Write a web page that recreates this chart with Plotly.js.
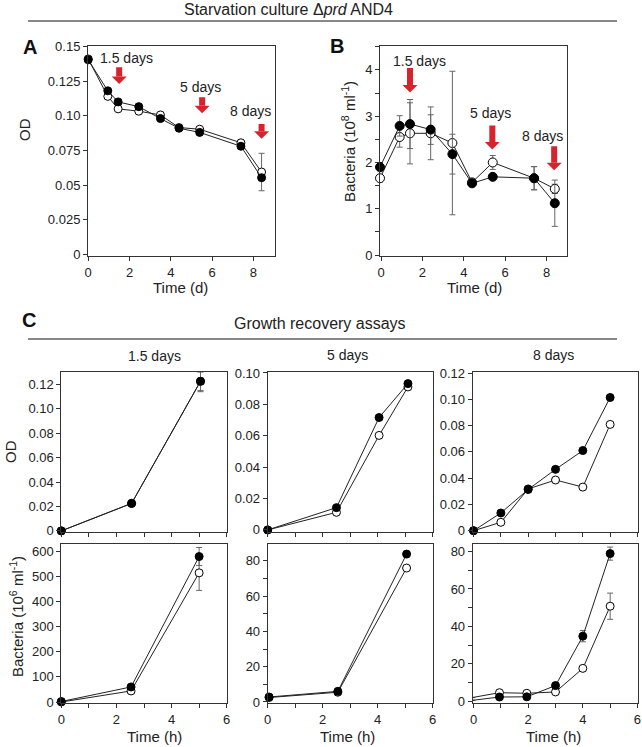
<!DOCTYPE html>
<html>
<head>
<meta charset="utf-8">
<script src="https://cdn.plot.ly/plotly-3.0.1.min.js"></script>
<style>html,body{margin:0;padding:0;background:#fff;}#chart{width:642px;height:747px;}</style>
</head>
<body>
<div id="chart"></div>
<script>
// ---------- Panel A: OD during starvation ----------
const A_days = [0, 0.95, 1.45, 2.45, 3.5, 4.4, 5.4, 7.4, 8.4];
const A_od_filled = [0.1404, 0.118, 0.110, 0.1066, 0.098, 0.091, 0.088, 0.078, 0.0553];
const A_od_open = [0.141, 0.114, 0.105, 0.1033, 0.1006, 0.0915, 0.0903, 0.0805, 0.0594];
const A_err_filled = [0, 0, 0, 0, 0, 0, 0, 0, 0];
const A_err_open = [0, 0, 0, 0, 0, 0, 0, 0, 0.0135];
const A_ytickvals = [0, 0.025, 0.05, 0.075, 0.10, 0.125, 0.15];
const A_yticktext = ['0', '0.025', '0.05', '0.075', '0.10', '0.125', '0.15'];

// ---------- Panel B: bacteria during starvation ----------
const B_days = [-0.05, 0.9, 1.4, 2.4, 3.45, 4.4, 5.4, 7.4, 8.4];
const B_filled = [1.9, 2.79, 2.83, 2.71, 2.18, 1.55, 1.69, 1.66, 1.12];
const B_open = [1.66, 2.55, 2.63, 2.63, 2.42, 1.57, 2.0, 1.66, 1.43];
const B_err_filled = [0.1, 0.22, 0.53, 0.32, 0.43, 0.06, 0.05, 0.25, 0.5];
const B_err_open = [0.08, 0.22, 0.66, 0.57, 1.55, 0.05, 0.15, 0.25, 0.1];

// sampling-day markers (arrows + labels)
const sampleLabels = ['1.5 days', '5 days', '8 days'];
const A_arrowX = [1.5, 5.52, 8.4];
const A_arrowTop = [0.135, 0.1133, 0.094];
const A_arrowTip = [0.123, 0.1018, 0.0834];
const A_labelX = [1.84, 5.44, 7.87];
const A_labelY = [0.142, 0.121, 0.1037];
const B_arrowX = [1.4, 5.38, 8.37];
const B_arrowTop = [4.04, 2.8, 2.35];
const B_arrowTip = [3.51, 2.28, 1.83];
const B_labelX = [1.88, 5.3, 7.81];
const B_labelY = [4.2, 3.07, 2.58];

// ---------- Panel C: growth recovery ----------
const C15_t = [0, 2.55, 5.05];
const C15_od_filled = [0, 0.0225, 0.1224];
const C15_od_open = [0, 0.0225, 0.1224];
const C15_od_err_filled = [0, 0, 0.0085];
const C15_od_err_open = [0, 0, 0.0075];

const C5_t = [0, 2.5, 4.05, 5.1];
const C5_od_filled = [0, 0.0142, 0.0716, 0.0932];
const C5_od_open = [0, 0.0112, 0.0602, 0.0911];

const C8_t = [0, 1, 2, 3, 4, 5];
const C8_od_filled = [0, 0.0135, 0.0314, 0.0467, 0.061, 0.1014];
const C8_od_open = [0, 0.0064, 0.0318, 0.0386, 0.0332, 0.0809];

const C15_bt = [0, 2.53, 5.0];
const C15_bac_filled = [2, 60, 580];
const C15_bac_open = [0, 44, 515];
const C15_bac_err_filled = [0, 0, 36];
const C15_bac_err_open = [0, 0, 70];

const C5_bt = [0.05, 2.55, 5.05];
const C5_bac_filled = [2.8, 6.0, 83.8];
const C5_bac_open = [2.5, 5.5, 75.9];
const C5_bac_err_filled = [0, 0, 1.5];
const C5_bac_err_open = [0, 0, 1.5];

const C8_bt = [-0.05, 0.95, 1.95, 3.0, 4.0, 5.0];
const C8_bac_filled = [0.5, 2.3, 2.4, 8.4, 34.8, 78.9];
const C8_bac_open = [2.0, 4.6, 4.3, 5.0, 17.6, 50.8];
const C8_bac_err_filled = [0, 0, 0, 0, 3, 3.5];
const C8_bac_err_open = [0, 0, 0, 0, 0, 7];

const C_od_tickvals = [0, 0.02, 0.04, 0.06, 0.08, 0.10, 0.12];
const C_od_ticktext = ['0', '0.02', '0.04', '0.06', '0.08', '0.10', '0.12'];

// ---------------------------------------------------------
const W = 642, H = 747;
const FONT = 'Liberation Sans, Arial, sans-serif';
const px = v => v / W;
const py = v => 1 - v / H;

function series(x, y, err, filled, xa, ya, msize) {
  const t = {
    x: x, y: y, xaxis: xa, yaxis: ya, type: 'scatter', mode: 'lines+markers',
    line: {color: '#222', width: 1},
    marker: {size: msize || 8, color: filled ? '#000' : '#fff', line: {color: '#000', width: 1}},
    showlegend: false, hoverinfo: 'x+y', cliponaxis: false
  };
  if (err) t.error_y = {type: 'data', array: err, visible: true, color: '#666', thickness: 1, width: 3};
  return t;
}

const traces = [
  series(A_days, A_od_open, A_err_open, false, 'x', 'y'),
  series(A_days, A_od_filled, A_err_filled, true, 'x', 'y'),
  series(B_days, B_open, B_err_open, false, 'x2', 'y2', 9),
  series(B_days, B_filled, B_err_filled, true, 'x2', 'y2', 9),
  series(C15_t, C15_od_open, C15_od_err_open, false, 'x3', 'y3'),
  series(C15_t, C15_od_filled, C15_od_err_filled, true, 'x3', 'y3'),
  series(C5_t, C5_od_open, null, false, 'x4', 'y4'),
  series(C5_t, C5_od_filled, null, true, 'x4', 'y4'),
  series(C8_t, C8_od_open, null, false, 'x5', 'y5'),
  series(C8_t, C8_od_filled, null, true, 'x5', 'y5'),
  series(C15_bt, C15_bac_open, C15_bac_err_open, false, 'x6', 'y6'),
  series(C15_bt, C15_bac_filled, C15_bac_err_filled, true, 'x6', 'y6'),
  series(C5_bt, C5_bac_open, C5_bac_err_open, false, 'x7', 'y7'),
  series(C5_bt, C5_bac_filled, C5_bac_err_filled, true, 'x7', 'y7'),
  series(C8_bt, C8_bac_open, C8_bac_err_open, false, 'x8', 'y8'),
  series(C8_bt, C8_bac_filled, C8_bac_err_filled, true, 'x8', 'y8')
];

function axis(dom, range, anchor, extra) {
  return Object.assign({
    domain: dom, range: range, anchor: anchor,
    showline: true, mirror: true, linecolor: '#333', linewidth: 1,
    ticks: 'outside', ticklen: 4, tickcolor: '#333', tickwidth: 1,
    showgrid: false, zeroline: false,
    tickfont: {family: FONT, size: 13, color: '#222'}, fixedrange: true
  }, extra || {});
}

// domains in pixels
const A_xpx = [88, 275], AB_ypx = [45.8, 256], B_xpx = [380, 567];
const A_x = [px(A_xpx[0]), px(A_xpx[1])], AB_y = [py(AB_ypx[1]), py(AB_ypx[0])];
const B_x = [px(B_xpx[0]), px(B_xpx[1])];
const C1_x = [px(61.3), px(226.7)], C2_x = [px(267.7), px(432.7)], C3_x = [px(472.7), px(638.3)];
const Ctop_y = [py(531.5), py(372)], Cbot_y = [py(703), py(543.5)];

const A_xrange = [-0.01, 9.05], A_yrange = [-0.0012, 0.1505];
const B_xrange = [-0.05, 8.99], B_yrange = [-0.02, 4.52];

const xMinor = {dtick: 1, ticks: 'outside', ticklen: 4, tickcolor: '#333', showgrid: false};

const layout = {
  width: W, height: H, margin: {l: 0, r: 0, t: 0, b: 0},
  paper_bgcolor: '#fff', plot_bgcolor: '#fff',
  font: {family: FONT, color: '#222'}, showlegend: false,
  xaxis: axis(A_x, A_xrange, 'y', {tickvals: [0, 2, 4, 6, 8]}),
  yaxis: axis(AB_y, A_yrange, 'x', {tickvals: A_ytickvals, ticktext: A_yticktext}),
  xaxis2: axis(B_x, B_xrange, 'y2', {tickvals: [0, 2, 4, 6, 8]}),
  yaxis2: axis(AB_y, B_yrange, 'x2', {dtick: 1, tick0: 0, minor: {dtick: 0.5, ticks: 'outside', ticklen: 4, tickcolor: '#333', showgrid: false}}),
  xaxis3: axis(C1_x, [0, 6], 'y3', {dtick: 1, showticklabels: false}),
  yaxis3: axis(Ctop_y, [-0.0005, 0.13], 'x3', {tickvals: C_od_tickvals, ticktext: C_od_ticktext}),
  xaxis4: axis(C2_x, [0, 6], 'y4', {dtick: 1, showticklabels: false}),
  yaxis4: axis(Ctop_y, [-0.001, 0.1006], 'x4', {tickvals: C_od_tickvals.slice(0, 6), ticktext: C_od_ticktext.slice(0, 6)}),
  xaxis5: axis(C3_x, [-0.03, 6.03], 'y5', {dtick: 1, showticklabels: false}),
  yaxis5: axis(Ctop_y, [-0.0006, 0.1208], 'x5', {tickvals: C_od_tickvals, ticktext: C_od_ticktext}),
  xaxis6: axis(C1_x, [0, 6], 'y6', {dtick: 2, tick0: 0, minor: xMinor}),
  yaxis6: axis(Cbot_y, [-4, 632], 'x6', {dtick: 100, tick0: 0}),
  xaxis7: axis(C2_x, [0, 6], 'y7', {dtick: 2, tick0: 0, minor: xMinor}),
  yaxis7: axis(Cbot_y, [-0.6, 89.8], 'x7', {dtick: 20, tick0: 0, minor: {dtick: 10, ticks: 'outside', ticklen: 4, tickcolor: '#333', showgrid: false}}),
  xaxis8: axis(C3_x, [-0.03, 6.03], 'y8', {dtick: 2, tick0: 0, minor: xMinor}),
  yaxis8: axis(Cbot_y, [-0.9, 84.3], 'x8', {dtick: 20, tick0: 0, minor: {dtick: 10, ticks: 'outside', ticklen: 4, tickcolor: '#333', showgrid: false}}),
  shapes: [
    {type: 'line', xref: 'paper', yref: 'paper', x0: px(28), x1: px(617), y0: py(21), y1: py(21), line: {color: '#888', width: 2}},
    {type: 'line', xref: 'paper', yref: 'paper', x0: px(28), x1: px(617), y0: py(339), y1: py(339), line: {color: '#888', width: 2}}
  ],
  annotations: []
};

function ptext(x, y, text, size, extra) {
  return Object.assign({xref: 'paper', yref: 'paper', x: px(x), y: py(y), text: text, showarrow: false,
    xanchor: 'center', yanchor: 'middle', font: {family: FONT, size: size, color: '#222'}}, extra || {});
}

const ann = layout.annotations;
ann.push(ptext(288, 9, 'Starvation culture Δ<i>prd</i> AND4', 16));
ann.push(ptext(320, 323, 'Growth recovery assays', 16));
ann.push(ptext(30, 47, '<b>A</b>', 20, {font: {family: FONT, size: 20, color: '#111'}}));
ann.push(ptext(337, 46, '<b>B</b>', 20, {font: {family: FONT, size: 20, color: '#111'}}));
ann.push(ptext(29, 320, '<b>C</b>', 20, {font: {family: FONT, size: 20, color: '#111'}}));
ann.push(ptext(154, 356, '1.5 days', 14));
ann.push(ptext(348, 355, '5 days', 14));
ann.push(ptext(553, 355, '8 days', 14));
ann.push(ptext(24, 129, 'OD', 15, {textangle: -90}));
ann.push(ptext(348, 141, 'Bacteria (10<sup>8</sup> ml<sup>-1</sup>)', 15, {textangle: -90}));
ann.push(ptext(181, 287, 'Time (d)', 15));
ann.push(ptext(474, 287, 'Time (d)', 15));
ann.push(ptext(10, 452, 'OD', 15, {textangle: -90}));
ann.push(ptext(16, 617, 'Bacteria (10<sup>6</sup> ml<sup>-1</sup>)', 15, {textangle: -90}));
ann.push(ptext(154, 736, 'Time (h)', 15));
ann.push(ptext(347, 736, 'Time (h)', 15));
ann.push(ptext(553, 736, 'Time (h)', 15));

// red block arrows drawn as shapes in data coordinates
function dayMarkers(xa, ya, xr, yr, xpx, ypx, ax, top, tip, lx, ly) {
  const dxPerPx = (xr[1] - xr[0]) / (xpx[1] - xpx[0]);
  const dyPerPx = (yr[1] - yr[0]) / (ypx[1] - ypx[0]);
  const headHalf = 7.5 * dxPerPx, shaftHalf = 3 * dxPerPx, headH = 7.5 * dyPerPx;
  for (let i = 0; i < sampleLabels.length; i++) {
    ann.push({xref: xa, yref: ya, x: lx[i], y: ly[i], text: sampleLabels[i], showarrow: false,
      xanchor: 'center', yanchor: 'middle', font: {family: FONT, size: 14, color: '#222'}});
    const x = ax[i], neck = tip[i] + headH;
    layout.shapes.push({type: 'rect', xref: xa, yref: ya, x0: x - shaftHalf, x1: x + shaftHalf,
      y0: neck, y1: top[i], fillcolor: '#d7232b', line: {width: 0}});
    layout.shapes.push({type: 'path', xref: xa, yref: ya,
      path: `M ${x - headHalf} ${neck} L ${x + headHalf} ${neck} L ${x} ${tip[i]} Z`,
      fillcolor: '#d7232b', line: {width: 0}});
  }
}
dayMarkers('x', 'y', A_xrange, A_yrange, A_xpx, AB_ypx, A_arrowX, A_arrowTop, A_arrowTip, A_labelX, A_labelY);
dayMarkers('x2', 'y2', B_xrange, B_yrange, B_xpx, AB_ypx, B_arrowX, B_arrowTop, B_arrowTip, B_labelX, B_labelY);

Plotly.newPlot('chart', traces, layout, {staticPlot: true, displayModeBar: false});
</script>
</body>
</html>
